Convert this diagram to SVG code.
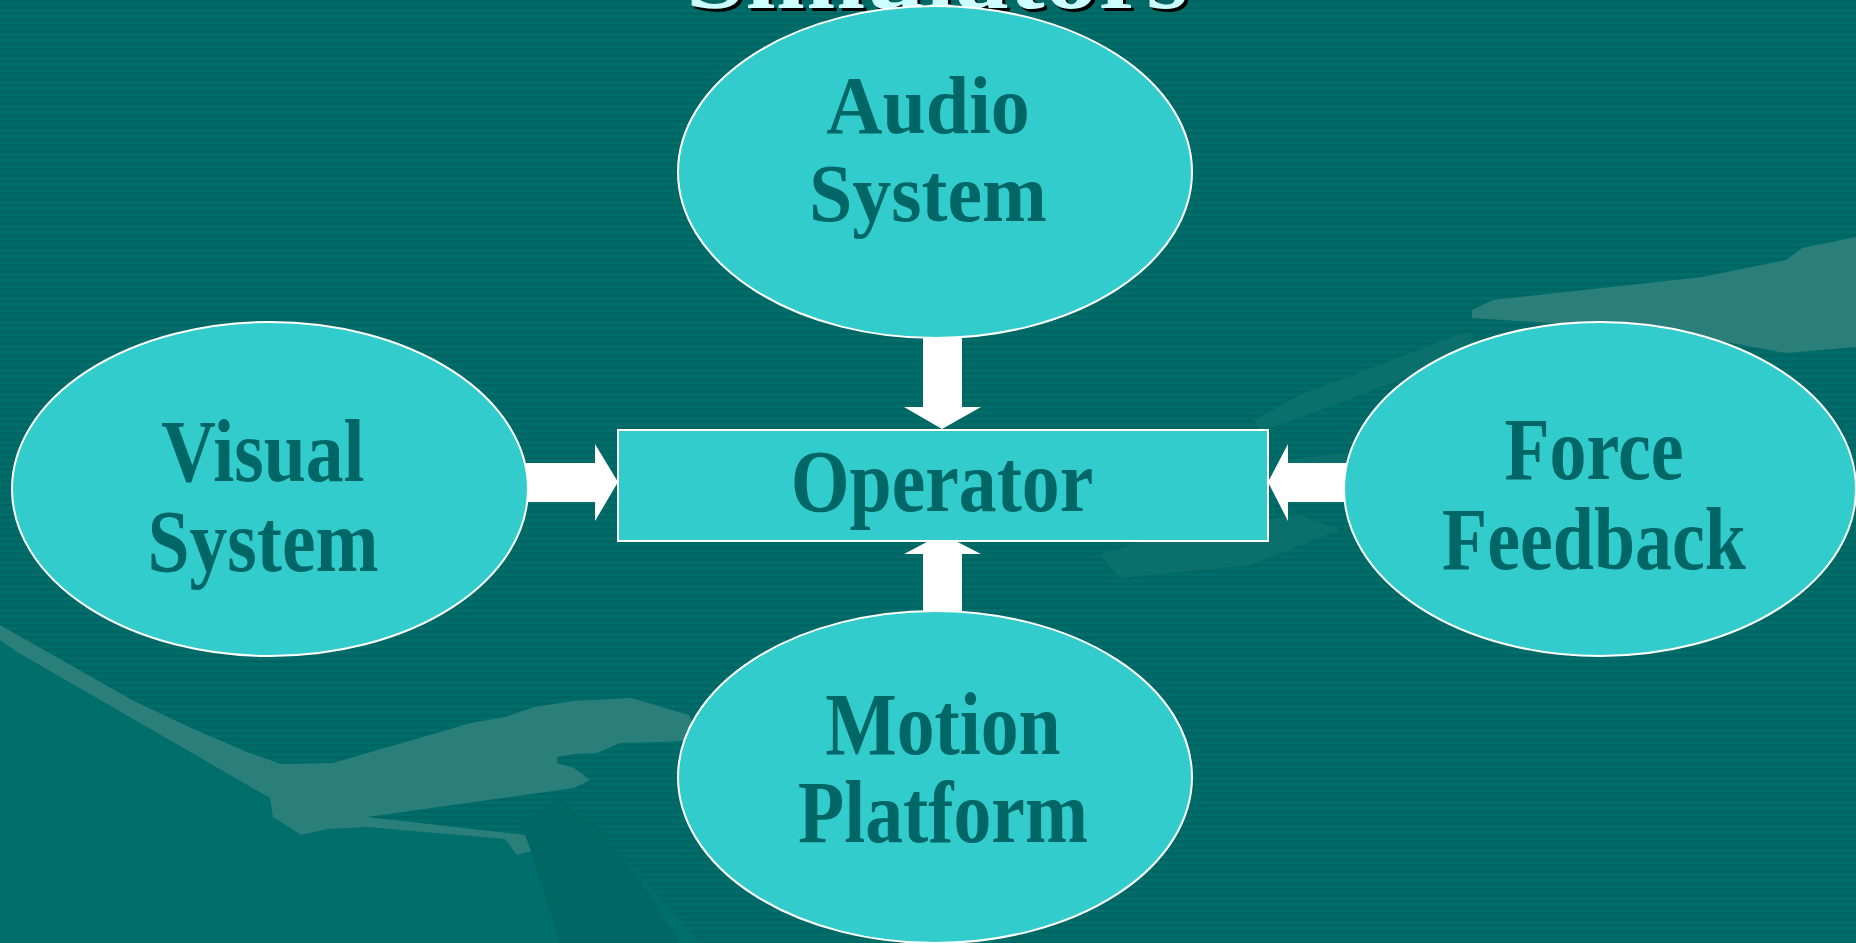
<svg xmlns="http://www.w3.org/2000/svg" width="1856" height="943" viewBox="0 0 1856 943">
<defs>
<pattern id="stripes" x="0" y="0" width="8" height="6" patternUnits="userSpaceOnUse">
<rect width="8" height="6" fill="#006664"/>
<rect y="3" width="8" height="3" fill="#006d6a"/>
</pattern>
<style>
.node{fill:#33cccc;stroke:#ffffff;stroke-width:2}
.lbl{font-family:"Liberation Serif","Times New Roman",serif;font-weight:bold;fill:#006666;text-anchor:middle}
.arrow{fill:#ffffff;stroke:none}
.sil{fill:#2a7f7b}
.solid{fill:#006e6a}
.dark{fill:#006864}
.ghost{fill:#0b6f6b}
</style>
</defs>
<rect width="1856" height="943" fill="url(#stripes)"/>
<g id="background-figure">
<polygon class="solid" points="0,640 17,652 270,798 273,817 301,835 327,829 367,827 505,839 517,855 531,851 525,835 600,830 700,943 0,943"/>
<polygon class="dark" points="520,820 560,800 600,830 640,880 680,943 560,943 540,880"/>
<polygon class="sil" points="0,625 132,700 189,727 247,752 281,764 333,763 402,743 471,723 505,717 534,707 574,701 631,698 689,715 700,740 660,742 620,743 597,753 574,754 557,757 557,763 574,768 590,780 574,788 367,817 525,835 531,851 517,855 505,839 367,827 327,829 301,835 273,817 270,798 17,652 0,640"/>
<polygon class="ghost" points="1254,420 1300,395 1380,365 1451,337 1468,332 1480,345 1400,380 1320,410 1260,432"/>
<polygon class="sil" points="1472,310 1493,300 1702,277 1786,260 1802,248 1856,237 1856,347 1786,353 1660,330 1472,318"/>
<polygon class="ghost" points="1284,460 1346,453 1346,470 1290,478"/>
<polygon class="ghost" points="1100,555 1160,535 1300,515 1340,530 1250,565 1120,578"/>
</g>
<g id="title">
<text x="940" y="11" font-family="'Liberation Serif','Times New Roman',serif" font-weight="bold" font-size="96" textLength="502" lengthAdjust="spacingAndGlyphs" text-anchor="middle" fill="#000000">Simulators</text>
<text x="937" y="8" font-family="'Liberation Serif','Times New Roman',serif" font-weight="bold" font-size="96" textLength="502" lengthAdjust="spacingAndGlyphs" text-anchor="middle" fill="#ccffff">Simulators</text>
</g>
<g id="connectors">
<polygon class="arrow" points="923,330 962,330 962,407 981,407 942,429 904,407 923,407"/>
<polygon class="arrow" points="923,625 962,625 962,554 981,554 942,534 904,554 923,554"/>
<polygon class="arrow" points="520,463 595,463 595,444 618,482 595,521 595,502 520,502"/>
<polygon class="arrow" points="1350,463 1288,463 1288,444 1268,482 1288,521 1288,502 1350,502"/>
</g>
<g id="audio-system">
<ellipse class="node" cx="935" cy="172" rx="257" ry="166"/>
<text class="lbl" font-size="82" transform="translate(928,0) scale(0.95,1)"><tspan x="0" y="133">Audio</tspan><tspan x="0" y="221">System</tspan></text>
</g>
<g id="visual-system">
<ellipse class="node" cx="270" cy="489" rx="258" ry="167"/>
<text class="lbl" font-size="88" transform="translate(263,0) scale(0.86,1)"><tspan x="0" y="481">Visual</tspan><tspan x="0" y="571">System</tspan></text>
</g>
<g id="force-feedback">
<ellipse class="node" cx="1600" cy="489" rx="256" ry="167"/>
<text class="lbl" font-size="88" transform="translate(1594,0) scale(0.84,1)"><tspan x="0" y="479">Force</tspan><tspan x="0" y="569">Feedback</tspan></text>
</g>
<g id="motion-platform">
<ellipse class="node" cx="935" cy="777" rx="257" ry="166"/>
<text class="lbl" font-size="88" transform="translate(943,0) scale(0.86,1)"><tspan x="0" y="754">Motion</tspan><tspan x="0" y="842">Platform</tspan></text>
</g>
<g id="operator">
<rect class="node" x="618" y="430" width="650" height="111"/>
<text class="lbl" font-size="88" transform="translate(942,0) scale(0.86,1)" x="0" y="511">Operator</text>
</g>
</svg>
